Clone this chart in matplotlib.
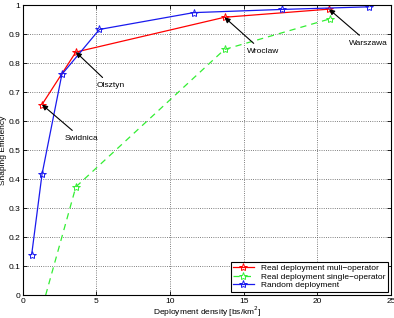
import matplotlib
matplotlib.use('Agg')
import matplotlib.pyplot as plt

# data
multi_x = [1.3, 3.6, 13.7, 20.8]
multi_y = [0.657, 0.838, 0.958, 0.986]

single_x = [1.55, 3.6, 13.7, 20.9]
single_y = [0.0, 0.373, 0.847, 0.953]

random_x = [0.6, 1.3, 2.65, 5.2, 11.6, 17.6, 23.5]
random_y = [0.14, 0.416, 0.761, 0.916, 0.974, 0.985, 0.994]

cities = ['Swidnica', 'Olsztyn', 'Wroclaw', 'Warszawa']
city_text_xy = [(4.0, 0.54), (6.0, 0.722), (16.3, 0.84), (23.5, 0.868)]

plt.rcParams.update({
    'font.family': ['Liberation Sans', 'DejaVu Sans'],
    'font.size': 6,
})

fig = plt.figure(figsize=(3.94, 3.18), dpi=100)
ax = fig.add_axes([0.058, 0.072, 0.934, 0.912])

mk = dict(marker='*', ms=6, mfc='none', mew=0.7)
ax.plot(multi_x, multi_y, '-', color='red', lw=0.9, mec='red',
        label='Real deployment muli\u2212operator', **mk)
ax.plot(single_x, single_y, '--', color='#33ee33', lw=0.9, dashes=(5, 4),
        mec='#33ee33', markevery=[1, 2, 3],
        label='Real deployment single\u2212operator', **mk)
ax.plot(random_x, random_y, '-', color='#1a1aee', lw=0.9, mec='#1a1aee',
        label='Random deployment', **mk)

for name, (px, py), (tx, ty) in zip(cities, zip(multi_x, multi_y), city_text_xy):
    ax.annotate(name, xy=(px, py), xytext=(tx, ty), ha='center', va='center',
                arrowprops=dict(arrowstyle='-|>', color='k', lw=0.8,
                                mutation_scale=8, shrinkA=2, shrinkB=0))

ax.set_xlim(0, 25)
ax.set_ylim(0, 1)
ax.set_xticks([0, 5, 10, 15, 20, 25])
ax.set_yticks([i / 10 for i in range(11)])
ax.set_xticklabels(['0', '5', '10', '15', '20', '25'])
ax.set_yticklabels(['0', '0.1', '0.2', '0.3', '0.4', '0.5', '0.6', '0.7', '0.8', '0.9', '1'])
ax.grid(True, ls=':', color='#555555', lw=0.6)
ax.tick_params(direction='in', length=3, width=0.6, pad=2, top=True, right=True)
for s in ax.spines.values():
    s.set_linewidth(0.8)

ax.set_xlabel('Deployment density [bs/km$^2$]', labelpad=0)
ax.set_ylabel('Shaping Efficiency', labelpad=1)

leg = ax.legend(loc='lower right', fancybox=False, edgecolor='k', framealpha=1,
                handlelength=2.5, borderpad=0.3, labelspacing=0.1,
                borderaxespad=0.4, fontsize=6)
leg.get_frame().set_linewidth(0.8)

fig.savefig('out.png', dpi=100)
